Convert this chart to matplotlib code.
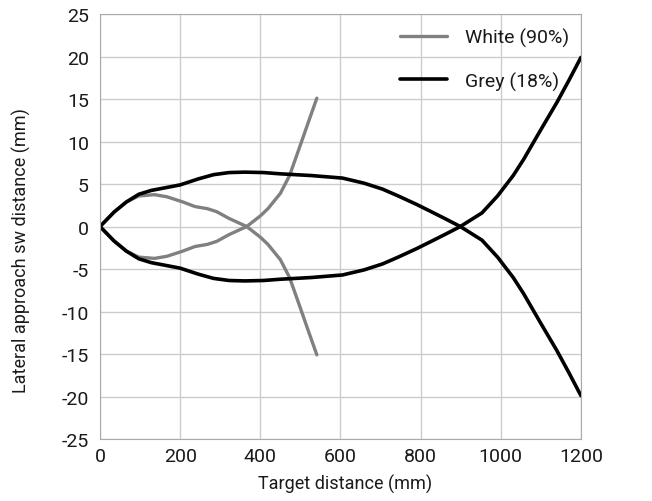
import matplotlib
matplotlib.use("Agg")
import matplotlib.pyplot as plt

plt.rcParams["font.family"] = ["Roboto", "DejaVu Sans"]
plt.rcParams["axes.unicode_minus"] = False

# White target (90% reflectance): the two switching edges
white_x = [0, 35, 66, 97, 136, 167, 206, 237, 268, 291, 322, 366, 400, 419, 450, 473, 497, 520, 541]
white_a = [0, 1.7, 2.9, 3.6, 3.75, 3.5, 2.9, 2.35, 2.1, 1.75, 0.95, 0, -1.25, -2.1, -3.9, -6.0, -9.2, -12.3, -15.1]
white_b = [0, -1.7, -2.9, -3.6, -3.75, -3.5, -2.9, -2.35, -2.1, -1.75, -0.95, 0, 1.25, 2.1, 3.9, 6.0, 9.2, 12.3, 15.1]

# Grey target (18% reflectance)
grey_x = [0, 35, 66, 97, 128, 167, 200, 245, 283, 322, 361, 408, 450, 527, 605, 659, 705, 744,
          790, 822, 860, 899, 953, 992, 1031, 1057, 1100, 1140, 1170, 1200]
grey_a = [0, 1.7, 2.9, 3.8, 4.25, 4.6, 4.9, 5.6, 6.1, 6.35, 6.4, 6.35, 6.2, 6.0, 5.7, 5.1, 4.4, 3.6,
          2.6, 1.85, 0.95, 0, -1.6, -3.6, -6.0, -7.9, -11.4, -14.6, -17.2, -19.9]
grey_b = [0, -1.7, -2.9, -3.8, -4.25, -4.6, -4.9, -5.6, -6.1, -6.35, -6.4, -6.35, -6.2, -6.0, -5.7, -5.1, -4.4, -3.6,
          -2.6, -1.85, -0.95, 0, 1.6, 3.6, 6.0, 7.9, 11.4, 14.6, 17.2, 19.9]

fig = plt.figure(figsize=(6.52, 5.02), dpi=100)
ax = fig.add_axes([0.1534, 0.1235, 0.7376, 0.8465])

kw = dict(solid_capstyle="round", solid_joinstyle="round")
ax.plot(white_x, white_a, color="#808080", lw=2.4, label="White (90%)", **kw)
ax.plot(white_x, white_b, color="#808080", lw=2.4, **kw)
ax.plot(grey_x, grey_a, color="black", lw=2.6, label="Grey (18%)", **kw)
ax.plot(grey_x, grey_b, color="black", lw=2.6, **kw)

ax.set_xlim(0, 1200)
ax.set_ylim(-25, 25)
ax.set_xticks(range(0, 1201, 200))
ax.set_yticks(range(-25, 26, 5))
ax.grid(True, color="#cccccc", lw=1)
ax.set_axisbelow(True)
for s in ax.spines.values():
    s.set_color("#aaaaaa")
ax.tick_params(length=0, labelsize=14, labelcolor="#1a1a1a")
ax.tick_params(axis="x", pad=6)
ax.tick_params(axis="y", pad=8)

ax.set_xlabel("Target distance (mm)", fontsize=13, color="#1a1a1a")
ax.set_ylabel("Lateral approach sw distance (mm)", fontsize=13, color="#1a1a1a")
ax.xaxis.set_label_coords(0.51, -0.082)
ax.yaxis.set_label_coords(-0.143, 0.445)

leg = ax.legend(loc="upper left", bbox_to_anchor=(0.624, 0.967), frameon=False,
                fontsize=14, handlelength=2.4, handletextpad=0.93, labelspacing=1.24,
                borderpad=0, borderaxespad=0)
for t in leg.get_texts():
    t.set_color("#1a1a1a")

fig.savefig("out.png", dpi=100)
